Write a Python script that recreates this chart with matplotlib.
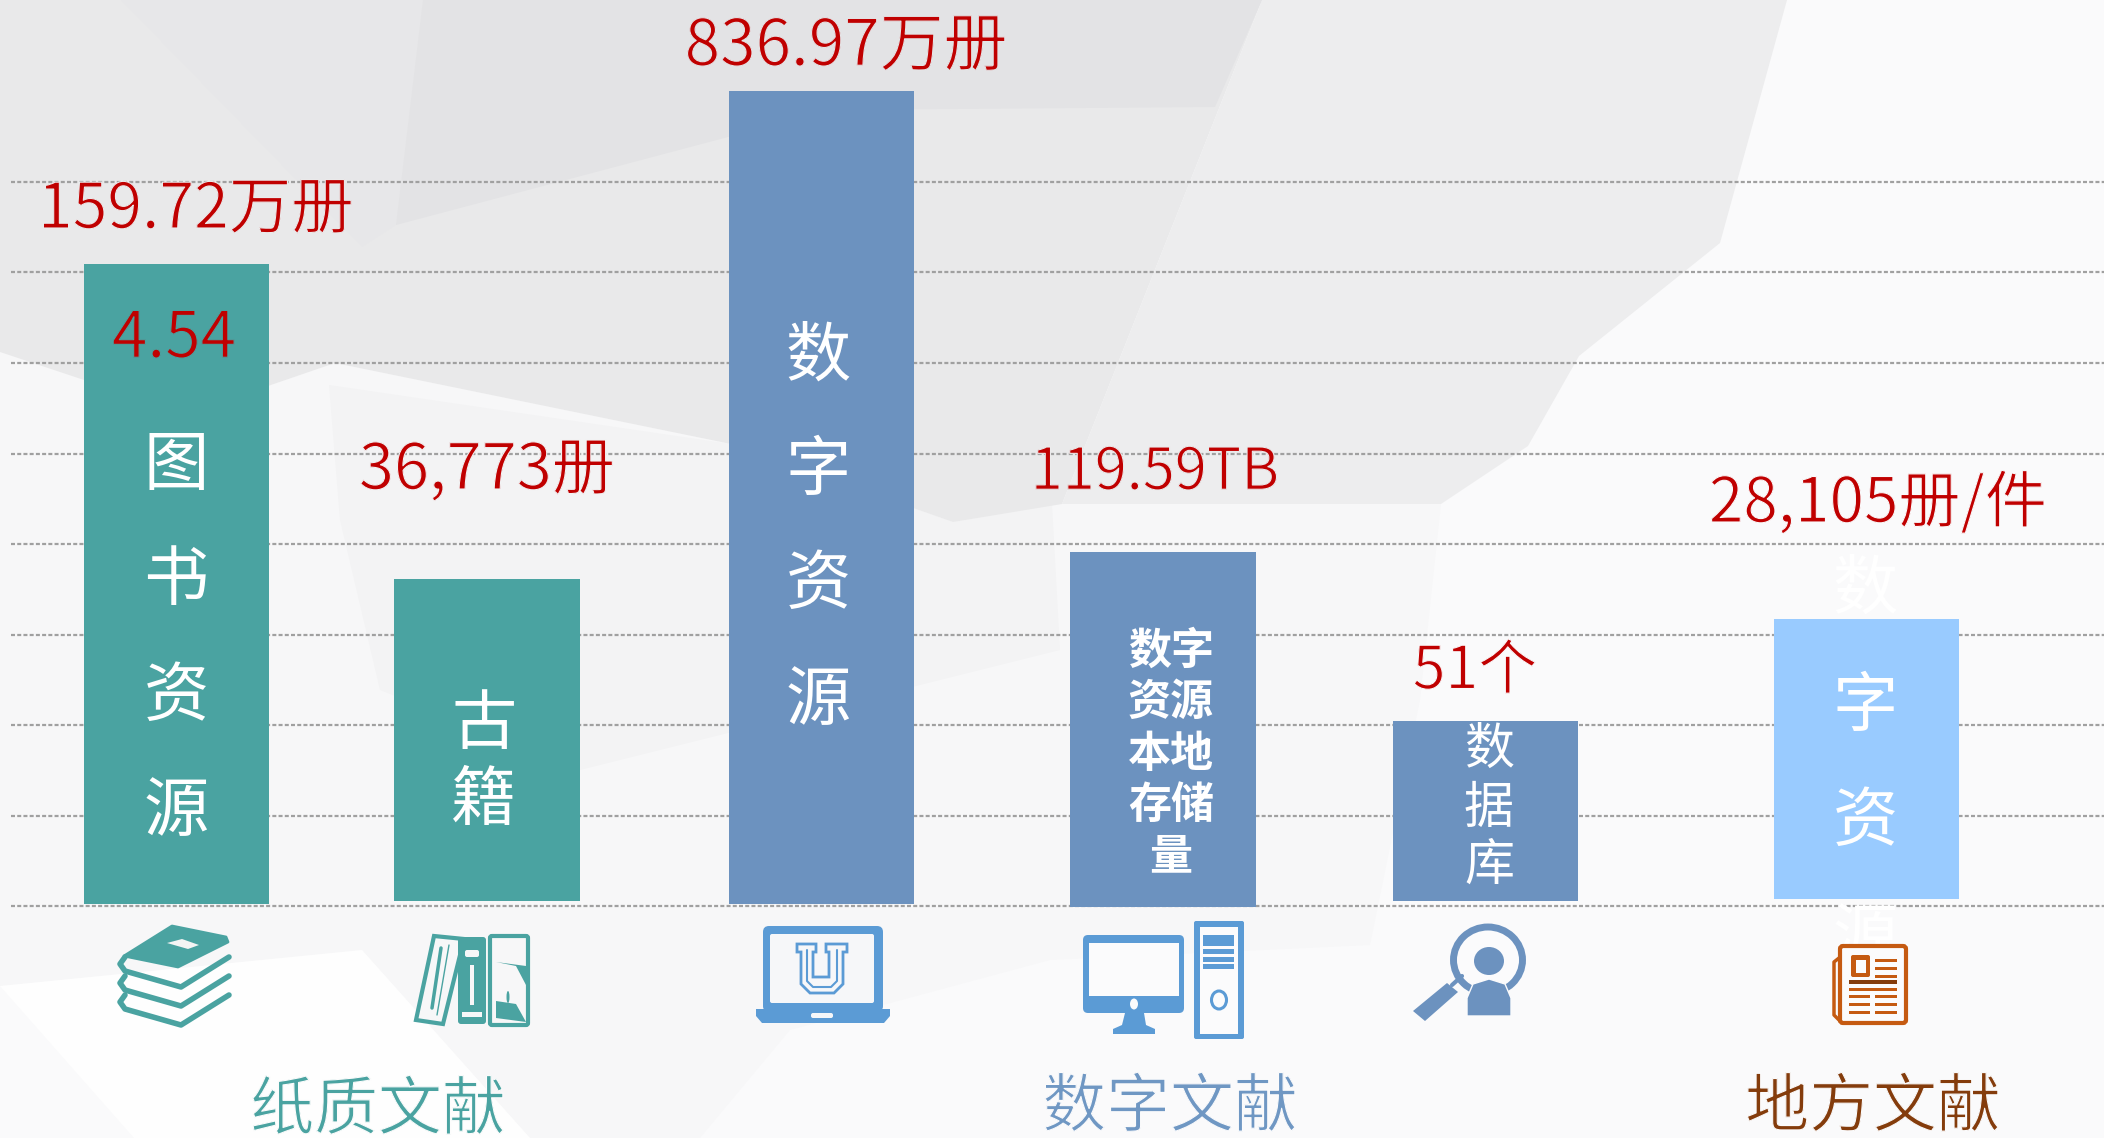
import numpy as np
import matplotlib
matplotlib.use("Agg")
import matplotlib.pyplot as plt
import matplotlib.patheffects as pe
from matplotlib.patches import Polygon, Rectangle, FancyBboxPatch, Ellipse

plt.rcParams['font.family'] = ['Noto Sans CJK SC', 'DejaVu Sans']

W, H = 2104, 1138
BASE_Y = 906   # pixel row of the lowest gridline

# bars (heights in pixels above the lowest gridline)
bar_centers = [176.5, 487, 821.5, 1163, 1485.5, 1866.5]
bar_heights = [640, 322, 813, 355, 180, 280]
bar_bottoms = [2, 5, 2, -1, 5, 7]
bar_colors = ['#4AA3A1', '#4AA3A1', '#6C92BF', '#6C92BF', '#6C92BF', '#99CBFF']
bar_widths = [185, 186, 185, 186, 185, 185]
grid_levels = [0, 90.5, 181, 271.5, 362, 452.5, 543.5, 634, 724]

value_labels = ['159.72万册', '4.54', '36,773册', '836.97万册', '119.59TB', '51个', '28,105册/件']
value_x = [196, 174, 487, 846, 1155, 1475, 1878]
value_y = [210, 339, 471, 47, 473, 672, 504]
value_size = [45, 46, 45.5, 46, 41.5, 42.5, 44.7]
value_bg = ['#EBEBEC', '#4AA3A1', '#F2F2F3', '#E5E5E7', '#EBEBEC', '#FAFAFB', '#FAFAFB']

# white words inside the bars, one glyph per row
bar_words = ['图书资源', '古籍', '数字资源', ['数字', '资源', '本地', '存储', '量'], '数据库', '数字资源']
word_x = [176, 484, 818, 1171, 1489, 1865]
word_y = [[467, 582, 698, 813], [726, 802], [357, 472, 586, 702],
          [651, 702, 754, 805, 856], [750, 809, 866], [590, 708, 823, 939]]
word_size = [47, 47, 47, 31, 36, 47]
word_bold = [False, False, False, True, False, False]

group_labels = ['纸质文献', '数字文献', '地方文献']
group_x = [378, 1170, 1873]
group_y = [1111, 1108, 1108]
group_colors = ['#4AA3A1', '#6F97C3', '#843C0C']
group_bg = ['#FCFCFC', '#FBFBFC', '#FBFBFC']

# background facets
bg_facets = [
    ('#F7F7F8', [(0, 352), (87, 381), (268, 386), (335, 363), (731, 444), (953, 522), (1052, 504), (1441, 504),
                 (1420, 700), (1370, 945), (1050, 960), (790, 1030), (700, 1138), (530, 1138), (362, 950), (0, 986)]),
    ('#FEFEFE', [(0, 986), (362, 950), (530, 1138), (134, 1138)]),
    ('#F3F3F4', [(329, 385), (731, 444), (953, 522), (1052, 504), (1060, 650), (580, 770), (380, 690), (340, 520)]),
    ('#E9E9EA', [(0, 0), (1262, 0), (1062, 504), (953, 522), (731, 444), (335, 363), (268, 386), (87, 381), (0, 352)]),
    ('#EDEDEE', [(1262, 0), (1787, 0), (1720, 243), (1579, 356), (1528, 446), (1441, 504), (1062, 504)]),
    ('#E7E7E9', [(121, 0), (423, 0), (396, 225), (362, 247)]),
    ('#E3E3E5', [(423, 0), (396, 225), (830, 110), (1215, 107), (1262, 0)]),
]

fig = plt.figure(figsize=(W / 100, H / 100), dpi=100, facecolor='#FAFAFB')

bg = fig.add_axes([0, 0, 1, 1], zorder=0)
for col, pts in bg_facets:
    bg.add_patch(Polygon(pts, closed=True, fc=col, ec='none'))

# top-left corner fades out instead of having a hard edge
corner = Polygon([(0, 0), (121, 0), (362, 247), (362, 260), (0, 352)], closed=True, fc='none', ec='none')
bg.add_patch(corner)
fade = bg.imshow([[0.955, 0.925], [0.915, 0.915]], cmap='gray', vmin=0, vmax=1, extent=(0, 362, 352, 0),
                 aspect='auto', interpolation='bilinear')
fade.set_clip_path(corner)
bg.set_xlim(0, W)
bg.set_ylim(H, 0)
bg.axis('off')

# chart axes: x in pixels, y in pixels above the lowest gridline
ax = fig.add_axes([0, 0, 1, 1], zorder=1)
ax.patch.set_alpha(0)
ax.set_xlim(0, W)
ax.set_ylim(BASE_Y - H, BASE_Y)
ax.axis('off')
ax.hlines(grid_levels, 11, W, colors='#A0A0A0', linestyles=(0, (1.8, 1.0)), linewidth=1.6, zorder=1)
ax.bar(bar_centers, bar_heights, width=bar_widths, bottom=bar_bottoms, color=bar_colors, zorder=2)

# overlay in plain pixel coords for text and icons
ov = fig.add_axes([0, 0, 1, 1], zorder=2)
ov.patch.set_alpha(0)
ov.set_xlim(0, W)
ov.set_ylim(H, 0)
ov.axis('off')


def thin_text(x, y, s, col, size, edge):
    # no light CJK face here, so shave the glyph edges with the backdrop colour
    ov.text(x, y, s, color=col, fontsize=size, ha='center', va='center', zorder=3,
            path_effects=[pe.Normal(), pe.Stroke(linewidth=0.8, foreground=edge)])


for s, x, y, size, b in zip(value_labels, value_x, value_y, value_size, value_bg):
    thin_text(x, y, s, '#C00000', size, b)

for word, x, ys, size, bold in zip(bar_words, word_x, word_y, word_size, word_bold):
    for ch, y in zip(word, ys):
        ov.text(x, y, ch, color='white', fontsize=size, ha='center', va='center', zorder=0.5,
                fontweight='bold' if bold else 'regular')

for s, x, y, col, b in zip(group_labels, group_x, group_y, group_colors, group_bg):
    thin_text(x, y, s, col, 46, b)


def line(pts, col, lw):
    xs, ys = zip(*pts)
    ov.plot(xs, ys, color=col, lw=lw, solid_capstyle='round', solid_joinstyle='round')


def box(x0, y0, x1, y1, col, r=0):
    if r:
        ov.add_patch(FancyBboxPatch((x0 + r, y0 + r), x1 - x0 - 2 * r, y1 - y0 - 2 * r,
                                    boxstyle='round,pad=%g' % r, fc=col, ec='none'))
    else:
        ov.add_patch(Rectangle((x0, y0), x1 - x0, y1 - y0, fc=col, ec='none'))


# books
TEAL = '#4AA3A1'
ov.add_patch(Polygon([(172, 926), (226, 937), (228, 942), (178, 967), (124, 956)], fc=TEAL, ec=TEAL, lw=2, joinstyle='round'))
ov.add_patch(Polygon([(167, 943), (182, 939), (199, 945), (188, 949)], fc='#F4F4F4', ec='none'))
for dy in [0, 19, 38]:
    line([(125, 957 + dy), (120, 964 + dy), (125, 971 + dy), (181, 987 + dy), (229, 957 + dy)], TEAL, 4)

# shelf
ov.add_patch(Polygon([(434, 936), (464, 939), (443, 1024), (416, 1020)], fc='#F7F7F8', ec=TEAL, lw=3))
line([(441, 948), (432, 1008)], TEAL, 2.5)
line([(449, 945), (437, 1015)], TEAL, 1)
box(458, 937, 486, 1024, TEAL, 3)
box(465, 950, 479, 957, '#F7F7F8', 2)
box(470, 965, 474, 1005, '#F7F7F8')
box(462, 1012, 482, 1017, '#F7F7F8')
ov.add_patch(FancyBboxPatch((492, 938), 34, 85, boxstyle='round,pad=2', fc='#F7F7F8', ec=TEAL, lw=3))
ov.add_patch(Polygon([(496, 962), (516, 966), (526, 985), (526, 966)], fc=TEAL, ec='none'))
ov.add_patch(Polygon([(496, 1001), (516, 1004), (526, 1022), (496, 1018)], fc=TEAL, ec='none'))
ov.add_patch(Ellipse((508, 997), 3, 12, fc=TEAL, ec='none'))

# laptop
BLUE = '#5B9BD5'
box(763, 926, 883, 1012, BLUE, 6)
box(770, 934, 874, 1003, '#F6F7F9', 2)
ov.add_patch(Polygon([(756, 1009), (890, 1009), (890, 1016), (884, 1023), (762, 1023), (756, 1016)], fc=BLUE, ec='none'))
box(811, 1013, 833, 1018, '#F6F7F9', 2)
u_out = [(797, 944), (816, 944), (816, 952), (813, 952), (813, 977), (829, 977), (829, 952), (826, 952), (826, 944),
         (847, 944), (847, 952), (843, 952), (843, 984), (834, 993), (810, 993), (801, 984), (801, 952), (797, 952)]
ov.add_patch(Polygon(u_out, fc='#F6F7F9', ec=BLUE, lw=2))
line([(807, 950), (807, 981), (813, 987), (831, 987), (837, 981), (837, 950)], BLUE, 1.5)

# computer
box(1083, 935, 1184, 1013, BLUE, 5)
box(1089, 943, 1179, 996, '#FBFBFC')
ov.add_patch(Ellipse((1134, 1004), 8, 11, fc='#FBFBFC', ec='none'))
ov.add_patch(Polygon([(1125, 1013), (1144, 1013), (1146, 1025), (1155, 1029), (1155, 1034), (1113, 1034), (1113, 1029), (1122, 1025)],
                     fc=BLUE, ec='none'))
box(1194, 921, 1244, 1039, BLUE, 2)
box(1200, 927, 1238, 1034, '#FBFBFC')
box(1203, 935, 1234, 946, BLUE)
box(1203, 949, 1234, 954, BLUE)
box(1203, 957, 1234, 962, BLUE)
box(1203, 964, 1234, 969, BLUE)
ov.add_patch(Ellipse((1219, 1000), 15, 18, fc='none', ec=BLUE, lw=2.2))

# magnifier
ov.add_patch(Ellipse((1488, 960), 69, 66, fc='#FBFBFC', ec='#6C92BF', lw=5))
ov.add_patch(Ellipse((1489, 961), 30, 28, fc='#6C92BF', ec='none'))
ov.add_patch(Polygon([(1467, 1016), (1467, 998), (1473, 984), (1489, 979), (1505, 984), (1511, 998), (1511, 1016)],
                     fc='#6C92BF', ec='#FBFBFC', lw=1))
ov.add_patch(Polygon([(1447, 983), (1458, 992), (1425, 1021), (1413, 1011)], fc='#6C92BF', ec='none'))
line([(1452, 985), (1462, 976)], '#6C92BF', 3)

# newspaper
ORANGE = '#C55A11'
ov.add_patch(FancyBboxPatch((1843, 949), 60, 71, boxstyle='round,pad=3', fc='#FBFBFC', ec=ORANGE, lw=3))
line([(1839, 958), (1834, 962), (1834, 1015), (1840, 1021)], ORANGE, 2.5)
box(1851, 955, 1870, 977, ORANGE, 2)
box(1856, 960, 1866, 973, '#FBFBFC')
for y in [960, 968, 976]:
    box(1875, y - 1, 1897, y + 1.5, ORANGE)
box(1849, 980, 1897, 984, '#843C0C')
box(1849, 988, 1897, 991, ORANGE)
for y in [995, 1003, 1011]:
    box(1849, y, 1870, y + 2.5, ORANGE)
    box(1875, y, 1897, y + 2.5, ORANGE)

fig.savefig('out.png', dpi=100, facecolor=fig.get_facecolor())
